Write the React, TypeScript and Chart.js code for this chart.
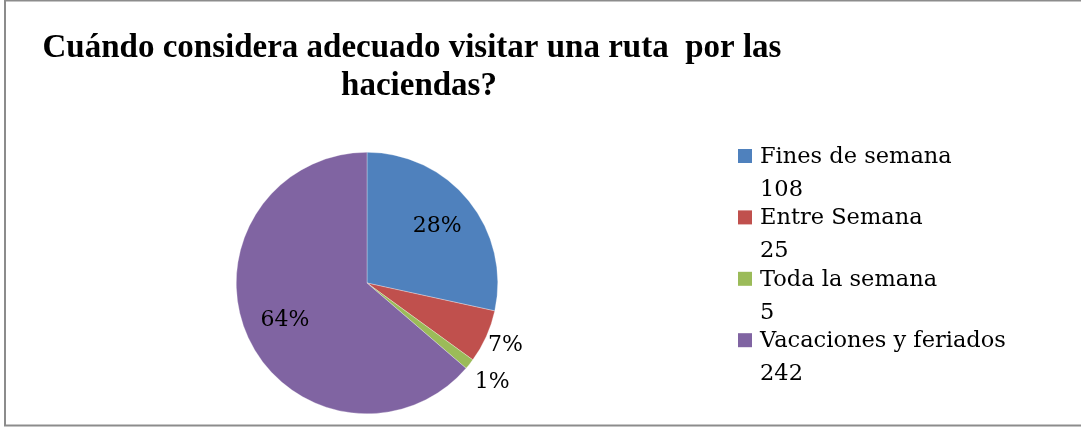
import React, { useEffect, useRef } from "react";
import { Chart, registerables } from "chart.js";

Chart.register(...registerables);

const titleLines = ["Cuándo considera adecuado visitar una ruta  por las", "haciendas?"];
const categories = ["Fines de semana", "Entre Semana", "Toda la semana", "Vacaciones y feriados"];
const values = [108, 25, 5, 242];
const colors = ["#4F81BD", "#C0504D", "#9BBB59", "#8064A2"];
const labelInside = [true, false, false, true];
const outsideGap = [0, 21, 29, 0];

const TITLE_FONT = "bold 33px 'Liberation Serif', serif";
const BODY_FONT = "22.5px 'DejaVu Serif', serif";
const PCT_FONT = "22px 'DejaVu Serif', serif";

const overlay = {
  id: "overlay",
  afterDraw(chart: any) {
    const ctx = chart.ctx as CanvasRenderingContext2D;
    ctx.save();
    // frame
    ctx.strokeStyle = "#8c8c8c";
    ctx.lineWidth = 2;
    ctx.strokeRect(5, 0.5, 1100, 425);

    // title
    ctx.fillStyle = "#000";
    ctx.font = TITLE_FONT;
    ctx.textAlign = "center";
    ctx.textBaseline = "alphabetic";
    ctx.fillText(titleLines[0], 412, 57);
    ctx.fillText(titleLines[1], 419, 95);

    // legend
    ctx.font = BODY_FONT;
    ctx.textAlign = "left";
    categories.forEach((c, i) => {
      const base = 163 + i * 61.4;
      ctx.fillStyle = colors[i];
      ctx.fillRect(738, base - 14, 14, 14);
      ctx.fillStyle = "#000";
      ctx.fillText(c, 760, base);
      ctx.fillText(String(values[i]), 760, base + 33);
    });

    // percentage labels
    const meta = chart.getDatasetMeta(0);
    const total = values.reduce((a, b) => a + b, 0);
    ctx.font = PCT_FONT;
    ctx.textAlign = "center";
    ctx.textBaseline = "middle";
    meta.data.forEach((arc: any, i: number) => {
      const { x, y, startAngle, endAngle, outerRadius } = arc.getProps(
        ["x", "y", "startAngle", "endAngle", "outerRadius"],
        true
      );
      const mid = (startAngle + endAngle) / 2;
      const r = labelInside[i] ? outerRadius * 0.69 : outerRadius + outsideGap[i];
      const lx = x + Math.cos(mid) * r;
      const ly = y + Math.sin(mid) * r;
      const pct = Math.round((values[i] / total) * 100) + "%";
      ctx.fillStyle = "#000";
      ctx.fillText(pct, lx, ly);
    });
    ctx.restore();
  },
};

export default function App() {
  const ref = useRef<HTMLCanvasElement | null>(null);
  useEffect(() => {
    document.body.style.margin = "0";
    const chart = new Chart(ref.current as HTMLCanvasElement, {
      type: "pie",
      data: {
        labels: categories,
        datasets: [
          {
            data: values,
            backgroundColor: colors,
            borderColor: "rgba(255,255,255,0.6)",
            borderWidth: 0.5,
          },
        ],
      },
      options: {
        animation: false,
        responsive: false,
        maintainAspectRatio: false,
        layout: { padding: { left: 236, right: 583, top: 152, bottom: 13 } },
        plugins: {
          legend: { display: false },
          title: { display: false },
          tooltip: { enabled: false },
        },
      },
      plugins: [overlay],
    });
    return () => chart.destroy();
  }, []);
  return (
    <div style={{ width: 1081, height: 427, background: "#fff" }}>
      <canvas ref={ref} width={1081} height={427} style={{ display: "block" }} />
    </div>
  );
}
